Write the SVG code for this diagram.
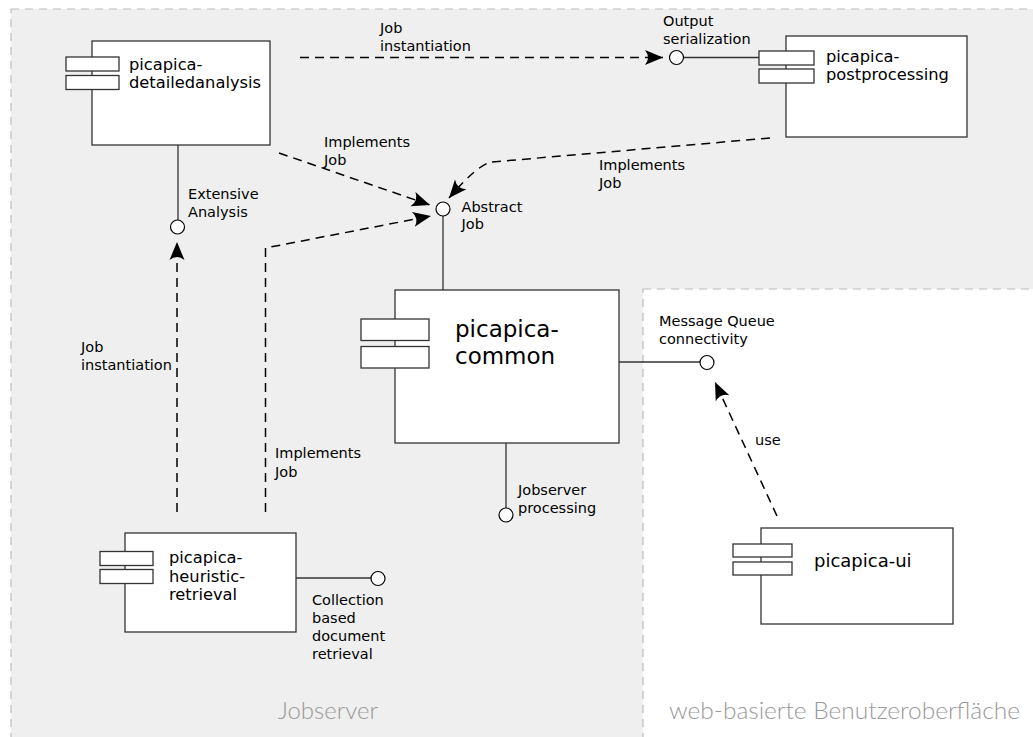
<svg xmlns="http://www.w3.org/2000/svg" width="1033" height="737" viewBox="0 0 1033 737">
<style>
.region{stroke:#bbb;stroke-width:1.2;stroke-dasharray:8,6}
.rlabel{font-family:Lato,"Open Sans",sans-serif;font-size:23.5px;font-weight:300;fill:#999}
.box{fill:#fff;stroke:#333;stroke-width:1.3}
.port{fill:#fff;stroke:#333;stroke-width:1.3}
.name{font-family:"DejaVu Sans",sans-serif;font-size:16.3px;fill:#000}
.big{font-size:23px}
.ui{font-size:18px}
.lbl{font-family:"DejaVu Sans",sans-serif;font-size:14.5px;fill:#000}
.iface{fill:#fff;stroke:#000;stroke-width:1.2}
.solid{fill:none;stroke:#333;stroke-width:1.3}
.dash{fill:none;stroke:#000;stroke-width:1.5;stroke-dasharray:9,6}
</style>
<defs>
<marker id="arr" markerUnits="userSpaceOnUse" markerWidth="24" markerHeight="18" viewBox="-21 -9 24 18" refX="0" refY="0" orient="auto">
<path d="M0,0 L-18,-7.5 Q-12,0 -18,7.5 Z" fill="#000"/>
</marker>
</defs>
<g id="region-jobserver">
<rect class="region" x="11" y="9" width="1040" height="740" fill="#efefef"/>
<text class="rlabel" x="278" y="719" textLength="100" lengthAdjust="spacingAndGlyphs">Jobserver</text>
</g>
<g id="region-web">
<rect class="region" x="643" y="289" width="410" height="460" fill="#fff"/>
<text class="rlabel" x="669" y="719" textLength="351" lengthAdjust="spacingAndGlyphs">web-basierte Benutzeroberfläche</text>
</g>
<g id="connectors">
<line class="solid" x1="178" y1="145" x2="178" y2="220"/>
<line class="solid" x1="684" y1="57.5" x2="759" y2="57.5"/>
<line class="solid" x1="443" y1="216" x2="443" y2="290"/>
<line class="solid" x1="619" y1="362" x2="700" y2="362"/>
<line class="solid" x1="506" y1="443" x2="506" y2="508"/>
<line class="solid" x1="296" y1="578" x2="371" y2="578"/>
<path class="dash" d="M300,57.5 L663,57.5" marker-end="url(#arr)"/>
<path class="dash" d="M279,153 L430,205" marker-end="url(#arr)"/>
<path class="dash" d="M265.5,512 L265.5,248 L431,216" marker-end="url(#arr)"/>
<path class="dash" d="M770,138 L492,162 Q478,164 449,198" marker-end="url(#arr)"/>
<path class="dash" d="M177,512 L177,242" marker-end="url(#arr)"/>
<path class="dash" d="M777,516 L715,382" marker-end="url(#arr)"/>
<text class="lbl" x="380" y="32.5">Job</text>
<text class="lbl" x="380" y="50.5">instantiation</text>
<text class="lbl" x="324" y="147">Implements</text>
<text class="lbl" x="324" y="165">Job</text>
<text class="lbl" x="599" y="170">Implements</text>
<text class="lbl" x="599" y="188">Job</text>
<text class="lbl" x="81" y="352">Job</text>
<text class="lbl" x="81" y="370">instantiation</text>
<text class="lbl" x="275" y="458">Implements</text>
<text class="lbl" x="275" y="476.5">Job</text>
<text class="lbl" x="755" y="445">use</text>
</g>
<g id="iface-extensive">
<circle class="iface" cx="177.5" cy="227" r="7"/>
<text class="lbl" x="188" y="199">Extensive</text>
<text class="lbl" x="188" y="217">Analysis</text>
</g>
<g id="iface-output">
<circle class="iface" cx="676.5" cy="57.5" r="7"/>
<text class="lbl" x="663" y="25.5">Output</text>
<text class="lbl" x="663" y="44">serialization</text>
</g>
<g id="iface-abstract">
<circle class="iface" cx="443" cy="209" r="7"/>
<text class="lbl" x="461.5" y="211.5">Abstract</text>
<text class="lbl" x="461.5" y="229">Job</text>
</g>
<g id="iface-mq">
<circle class="iface" cx="707" cy="362.5" r="7"/>
<text class="lbl" x="659" y="326">Message Queue</text>
<text class="lbl" x="659" y="344">connectivity</text>
</g>
<g id="iface-jobserver">
<circle class="iface" cx="506" cy="515" r="7"/>
<text class="lbl" x="518" y="495">Jobserver</text>
<text class="lbl" x="518" y="513">processing</text>
</g>
<g id="iface-collection">
<circle class="iface" cx="378" cy="578.5" r="7"/>
<text class="lbl" x="312" y="605">Collection</text>
<text class="lbl" x="312" y="623">based</text>
<text class="lbl" x="312" y="641">document</text>
<text class="lbl" x="312" y="659">retrieval</text>
</g>
<g id="node-detailedanalysis">
<rect class="box" x="92" y="41" width="178" height="104"/>
<rect class="port" x="66" y="57" width="53" height="14"/>
<rect class="port" x="66" y="75.5" width="53" height="14"/>
<text class="name" x="129" y="70">picapica-</text>
<text class="name" x="129" y="88">detailedanalysis</text>
</g>
<g id="node-postprocessing">
<rect class="box" x="786" y="36" width="181" height="101"/>
<rect class="port" x="759" y="51" width="55" height="14"/>
<rect class="port" x="759" y="69" width="55" height="14"/>
<text class="name" x="826" y="62">picapica-</text>
<text class="name" x="826" y="80">postprocessing</text>
</g>
<g id="node-common">
<rect class="box" x="395" y="290" width="224" height="153"/>
<rect class="port" x="361" y="319" width="68" height="21.5"/>
<rect class="port" x="361" y="346.5" width="68" height="21.5"/>
<text class="name big" x="455" y="337">picapica-</text>
<text class="name big" x="455" y="364">common</text>
</g>
<g id="node-heuristic">
<rect class="box" x="125" y="533" width="171" height="99"/>
<rect class="port" x="100" y="551.5" width="53" height="14"/>
<rect class="port" x="100" y="569.5" width="53" height="14"/>
<text class="name" x="169" y="563">picapica-</text>
<text class="name" x="169" y="581.5">heuristic-</text>
<text class="name" x="169" y="600">retrieval</text>
</g>
<g id="node-ui">
<rect class="box" x="761" y="528" width="192" height="96"/>
<rect class="port" x="733" y="544" width="59" height="13"/>
<rect class="port" x="733" y="562" width="59" height="13"/>
<text class="name ui" x="814" y="567">picapica-ui</text>
</g>
</svg>
